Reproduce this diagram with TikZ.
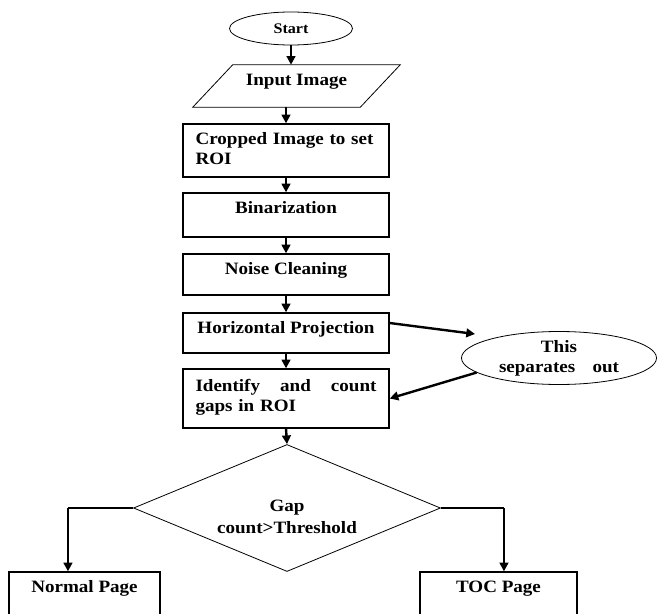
\documentclass[tikz,border=0pt]{standalone}
\usepackage{fontspec}
\setmainfont{Liberation Serif}[FakeStretch=1.1]
\usetikzlibrary{arrows.meta,shapes.geometric,calc}

\begin{document}
\begin{tikzpicture}[x=0.75pt,y=-0.75pt,
  every node/.style={font=\bfseries\fontsize{13}{15}\selectfont},
  bx/.style={draw,line width=1pt,minimum width=154.5pt,inner sep=0pt},
  ov/.style={draw,ellipse,line width=0.6pt,inner sep=0pt},
  tx/.style={anchor=north,inner sep=0pt,yshift=-6.75pt},
  arr/.style={-{Triangle[length=6.5pt,width=6.5pt]},line width=1.8pt},
  ln/.style={line width=0.9pt}]
\useasboundingbox (0,0) rectangle (657,614);
\clip (0,0) rectangle (657,614);
\node[ov,minimum width=92.25pt,minimum height=24.75pt,font=\bfseries\fontsize{11}{12}\selectfont] (start) at (291,28.5) {Start};
\node[minimum width=155.25pt,minimum height=31.5pt,inner sep=0pt,label={[tx]north:Input Image}] (inp) at (296.5,86) {};
\draw[line width=0.6pt] ([xshift=30pt]inp.north west) -- (inp.north east) -- ([xshift=-30pt]inp.south east) -- (inp.south west) -- cycle;
\node[bx,minimum height=39.75pt,label={[tx,text width=135.75pt,align=left]north:Cropped Image to set\\ROI}] (crop) at (286,150.5) {};
\node[bx,minimum height=33pt,label={[tx]north:Binarization}] (bin) at (286,215) {};
\node[bx,minimum height=30.75pt,label={[tx]north:Noise Cleaning}] (noise) at (286,274.5) {};
\node[bx,minimum height=30pt,label={[tx]north:Horizontal Projection}] (hp) at (286,333) {};
\node[bx,minimum height=44.25pt,label={[tx,yshift=-1.5pt,text width=135.75pt,align=left]north:Identify\hfill and\hfill count\\gaps in ROI}] (ident) at (286,398.5) {};
\node[ov,minimum width=146.25pt,minimum height=39.75pt,text width=90pt,align=center] (sep) at (559,358) {This\\separates\hfill out};
\node[draw,diamond,line width=0.6pt,minimum width=230.25pt,minimum height=95.25pt,inner sep=0pt,
  label={[inner sep=0pt,yshift=-6.75pt,align=center,font=\bfseries\fontsize{13}{16.5}\selectfont]center:Gap\\count>Threshold}] (dec) at (287,508) {};
\node[bx,minimum width=113.25pt,minimum height=51pt,label={[tx]north:Normal Page}] (norm) at (84.5,606) {};
\node[bx,minimum width=117.75pt,minimum height=51pt,label={[tx]north:TOC Page}] (toc) at (498.5,606) {};
\coordinate (sepin) at (475,334);
\coordinate (nleft) at ([xshift=-12.4pt]norm.north);
\coordinate (tright) at ([xshift=4.1pt]toc.north);
\draw[arr] (start.south) -- (start.south |- inp.north);
\draw[arr] (crop.north |- inp.south) -- (crop.north);
\draw[arr] (crop.south) -- (bin.north);
\draw[arr] (bin.south) -- (noise.north);
\draw[arr] (noise.south) -- (hp.north);
\draw[arr] (hp.south) -- (ident.north);
\draw[arr] (ident.south) -- (dec.north);
\draw[arr] ([yshift=7.5pt]hp.east) -- (sepin);
\draw[arr] (sep.190) -- (ident.east);
\draw[ln] (dec.west) -- (dec.west -| nleft);
\draw[arr] (dec.west -| nleft) -- (nleft);
\draw[ln] (dec.east) -- (dec.east -| tright);
\draw[arr] (dec.east -| tright) -- (tright);
\end{tikzpicture}
\end{document}
